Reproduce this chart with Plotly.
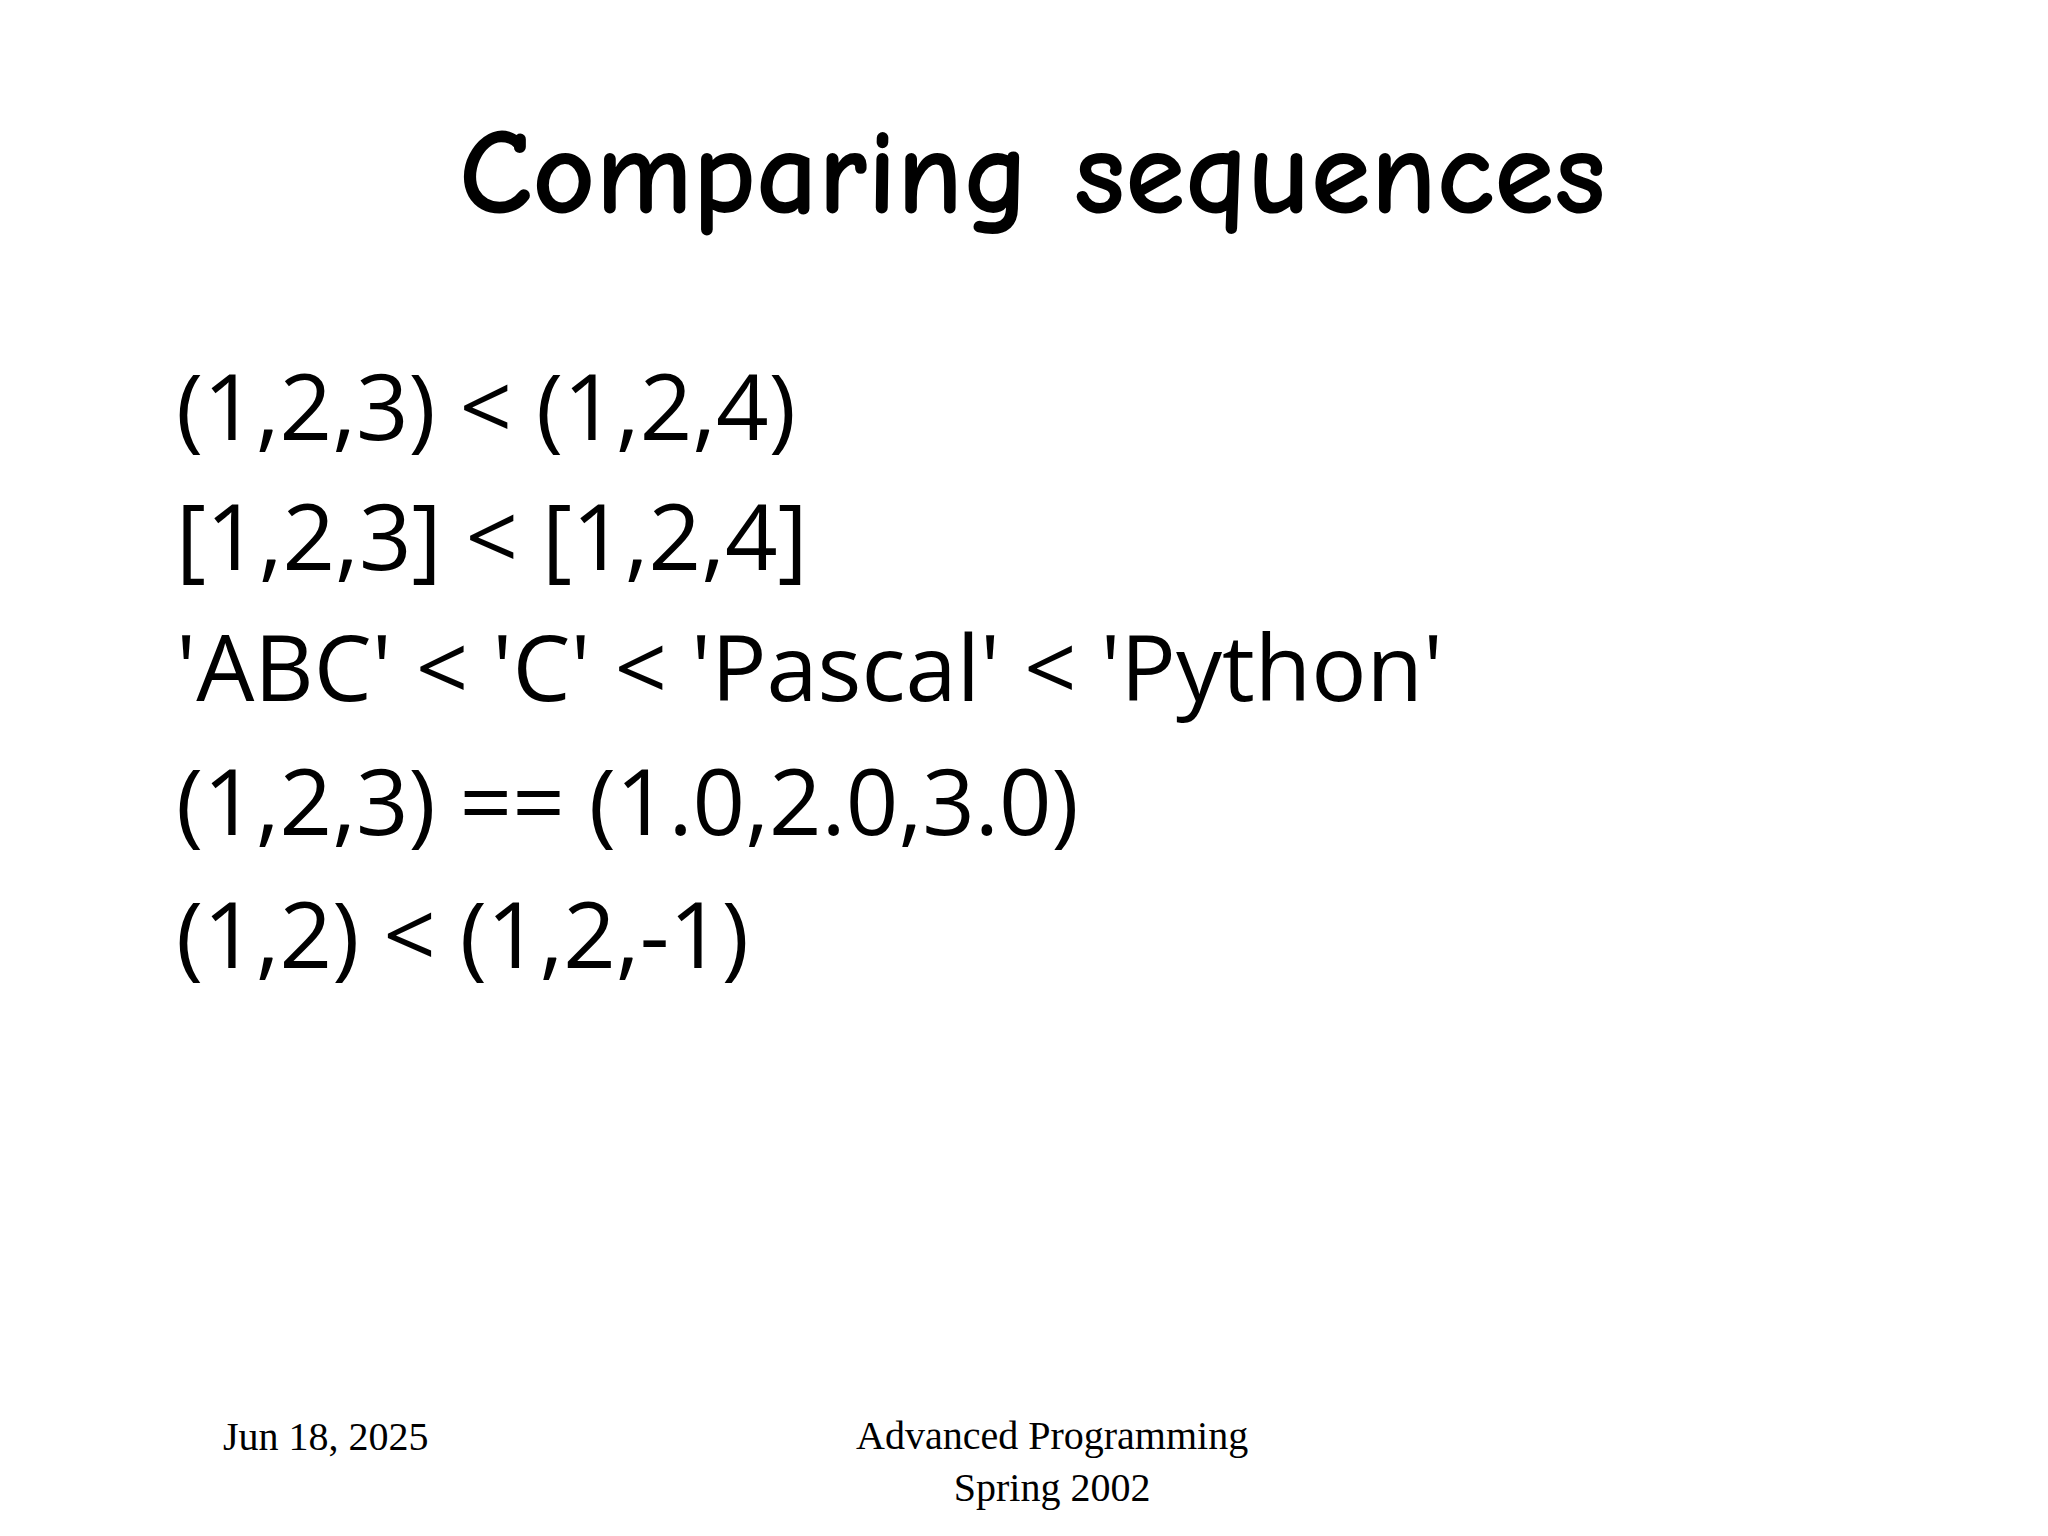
import plotly.graph_objects as go

title = "Comparing sequences"
lines = ["(1,2,3) &lt; (1,2,4)", "[1,2,3] &lt; [1,2,4]", "'ABC' &lt; 'C' &lt; 'Pascal' &lt; 'Python'",
         "(1,2,3) == (1.0,2.0,3.0)", "(1,2) &lt; (1,2,-1)"]
line_y = [0.258, 0.343, 0.428, 0.515, 0.602]
footer_date = "Jun 18, 2025"
footer_center = "Advanced Programming<br>Spring 2002"

fig = go.Figure()
ann = [dict(text="<b>" + title + "</b>", x=0.5, y=1-0.108, xref="paper", yref="paper", showarrow=False,
            xanchor="center", yanchor="middle",
            font=dict(family="Comic Sans MS, Comic Neue, Lato", size=122, color="black"))]
for t, y in zip(lines, line_y):
    ann.append(dict(text=t, x=0.081, y=1-y, xref="paper", yref="paper", showarrow=False,
                    xanchor="left", yanchor="middle",
                    font=dict(family="Open Sans", size=92, color="black")))
ann.append(dict(text=footer_date, x=0.104, y=1-0.930, xref="paper", yref="paper", showarrow=False,
                xanchor="left", yanchor="middle",
                font=dict(family="Liberation Serif", size=40, color="black")))
ann.append(dict(text=footer_center, x=0.510, y=1-0.946, xref="paper", yref="paper", showarrow=False,
                xanchor="center", yanchor="middle", align="center",
                font=dict(family="Liberation Serif", size=40, color="black")))
fig.update_layout(width=2048, height=1536, margin=dict(l=0, r=0, t=0, b=0),
                  paper_bgcolor="white", plot_bgcolor="white", annotations=ann,
                  xaxis=dict(visible=False), yaxis=dict(visible=False))
fig.write_html("out.html")
